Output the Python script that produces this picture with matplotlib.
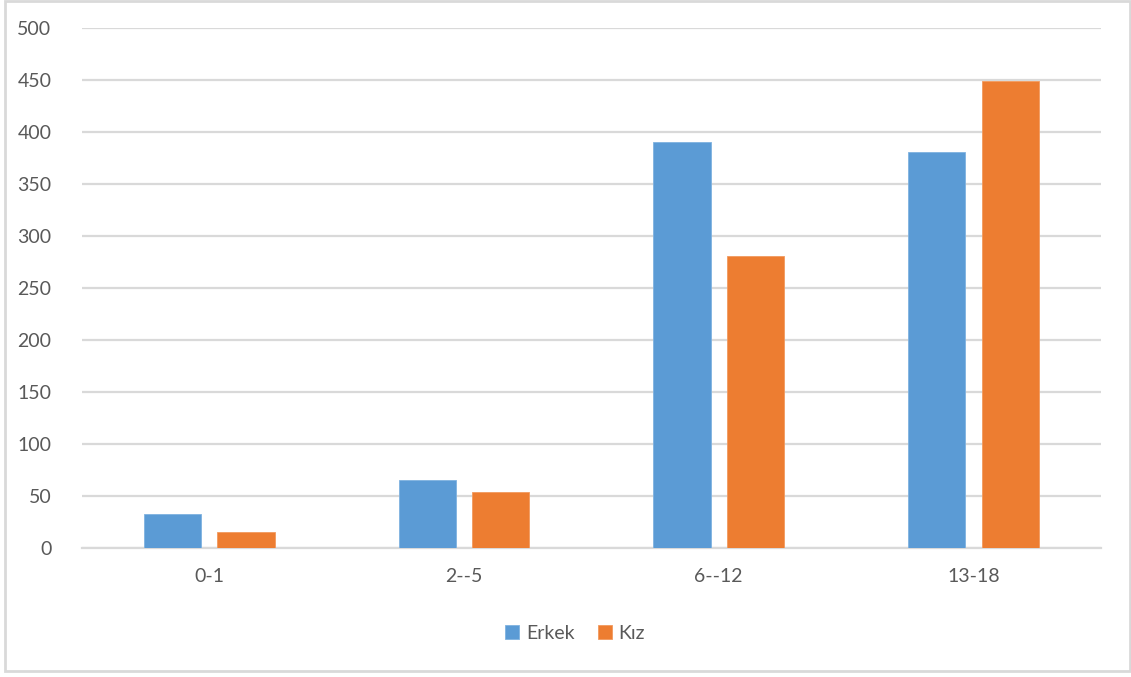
import numpy as np
import matplotlib.pyplot as plt
from matplotlib.patches import Rectangle

# age groups and counts per gender
groups = ["0-1", "2--5", "6--12", "13-18"]
erkek = [33, 66, 390, 381]
kiz = [16, 54, 281, 449]
yticks = list(range(0, 501, 50))

BLUE = "#5B9BD5"
ORANGE = "#ED7D31"
TEXT = "#595959"
GRID = "#D9D9D9"

plt.rcParams["font.family"] = ["Lato", "DejaVu Sans"]

fig = plt.figure(figsize=(11.31, 6.77), dpi=100)
ax = fig.add_axes([0.0725, 0.1901, 0.9007, 0.7685])

x = np.arange(len(groups))
w = 0.224
off = 0.144
ax.bar(x - off, erkek, w, color=BLUE, label="Erkek", zorder=3,
       edgecolor="#7FB2E0", linewidth=0.6)
ax.bar(x + off, kiz, w, color=ORANGE, label="Kız", zorder=3,
       edgecolor="#F29A5E", linewidth=0.6)

ax.set_xlim(-0.5, len(groups) - 0.5)
ax.set_ylim(0, 500)
ax.set_yticks(yticks)
ax.set_xticks(x)
ax.set_xticklabels(groups)

ax.yaxis.grid(True, color=GRID, linewidth=1.6, zorder=0)
ax.set_axisbelow(True)
for s in ["top", "right", "left"]:
    ax.spines[s].set_visible(False)
ax.spines["bottom"].set_color(GRID)
ax.spines["bottom"].set_linewidth(1.6)
ax.tick_params(axis="both", length=0, colors=TEXT, labelsize=14)
ax.tick_params(axis="y", pad=22)
ax.tick_params(axis="x", pad=14)

ax.legend(loc="upper center", bbox_to_anchor=(0.484, -0.113), ncol=2,
          frameon=False, fontsize=14, labelcolor=TEXT,
          handlelength=0.72, handleheight=0.72, handletextpad=0.35,
          columnspacing=1.2)

# light outer chart frame
fig.patches.append(Rectangle((5 / 1131, 1 - 671 / 677), 1125 / 1131, 670 / 677,
                             transform=fig.transFigure, fill=False,
                             edgecolor=GRID, linewidth=2))

fig.savefig("out.png", dpi=100)
